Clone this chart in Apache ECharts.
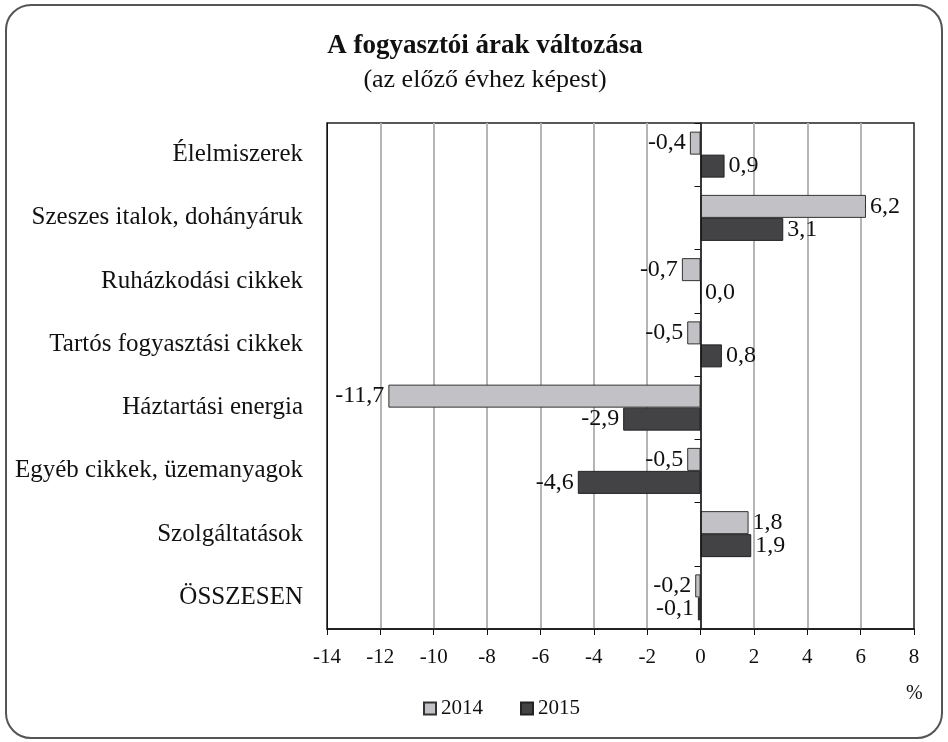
<!DOCTYPE html>
<html>
<head>
<meta charset="utf-8">
<script src="https://cdn.jsdelivr.net/npm/echarts@6/dist/echarts.min.js"></script>
<style>html,body{margin:0;padding:0;background:#fff;}#c{width:948px;height:742px;}</style>
</head>
<body>
<div id="c"></div>
<script>
const categories = ['Élelmiszerek', 'Szeszes italok, dohányáruk', 'Ruházkodási cikkek', 'Tartós fogyasztási cikkek', 'Háztartási energia', 'Egyéb cikkek, üzemanyagok', 'Szolgáltatások', 'ÖSSZESEN'];
const values2014 = [-0.4, 6.2, -0.7, -0.5, -11.7, -0.5, 1.8, -0.2];
const values2015 = [0.9, 3.1, 0.0, 0.8, -2.9, -4.6, 1.9, -0.1];
const seriesNames = ['2014', '2015'];
const xTicks = { min: -14, max: 8, interval: 2 };

const FONT = '"Liberation Serif", "DejaVu Serif", serif';
const fmt = v => v.toFixed(1).replace('.', ',');
const mkData = arr => arr.map(v => ({ value: v, label: { position: v < 0 ? 'left' : 'right' } }));

const chart = echarts.init(document.getElementById('c'), null, { renderer: 'canvas' });
chart.setOption({
  animation: false,
  backgroundColor: '#fff',
  textStyle: { fontFamily: FONT },
  title: [
    { text: 'A fogyasztói árak változása', left: 485, top: 33, padding: 0, textAlign: 'center',
      textStyle: { fontFamily: FONT, fontSize: 27, fontWeight: 'bold', color: '#111' } },
    { text: '(az előző évhez képest)', left: 485, top: 67, padding: 0, textAlign: 'center',
      textStyle: { fontFamily: FONT, fontSize: 26, fontWeight: 'normal', color: '#111' } },
    { text: '%', left: 906, top: 684, padding: 0,
      textStyle: { fontFamily: FONT, fontSize: 20, fontWeight: 'normal', color: '#111' } }
  ],
  graphic: [{
    type: 'rect', shape: { x: 6, y: 5, width: 936, height: 733, r: 25 },
    style: { fill: 'none', stroke: '#555', lineWidth: 2 }, z: 100, silent: true
  }],
  legend: {
    data: seriesNames, left: 423, top: 698, padding: 0, icon: 'rect', itemWidth: 12, itemHeight: 12,
    itemGap: 37, textStyle: { fontFamily: FONT, fontSize: 21, color: '#111' }
  },
  grid: { left: 327, right: 34, top: 123, bottom: 113, show: true, borderColor: '#222', borderWidth: 1.5, backgroundColor: 'transparent' },
  xAxis: {
    type: 'value', min: xTicks.min, max: xTicks.max, interval: xTicks.interval, position: 'bottom',
    axisLine: { show: true, onZero: false, lineStyle: { color: '#111', width: 1.5 } },
    axisTick: { show: true, length: 6, lineStyle: { color: '#111' } },
    axisLabel: { fontFamily: FONT, fontSize: 21, color: '#111', margin: 18, formatter: v => String(v) },
    splitLine: { show: true, showMinLine: false, showMaxLine: false, lineStyle: { color: '#b5b5b8', width: 2 } }
  },
  yAxis: [
    {
      type: 'category', data: categories, inverse: true, position: 'left',
      axisLine: { show: true, onZero: false, lineStyle: { color: '#111' } },
      axisTick: { show: false },
      axisLabel: { fontFamily: FONT, fontSize: 25, color: '#111', margin: 24 },
      splitLine: { show: false }
    },
    {
      type: 'category', data: categories, inverse: true, position: 'left', z: 5,
      axisLine: { show: true, onZero: true, onZeroAxisIndex: 0, lineStyle: { color: '#111', width: 1.5 } },
      axisTick: { show: true, length: 6, lineStyle: { color: '#111' } },
      axisLabel: { show: false },
      splitLine: { show: false }
    }
  ],
  series: [
    {
      name: seriesNames[0], type: 'bar', yAxisIndex: 0, data: mkData(values2014),
      barWidth: 23, barGap: '0%',
      itemStyle: { color: '#c2c2c6', borderColor: '#333', borderWidth: 1 },
      label: { show: true, fontFamily: FONT, fontSize: 24, color: '#111', distance: 4, formatter: p => fmt(p.value) }
    },
    {
      name: seriesNames[1], type: 'bar', yAxisIndex: 0, data: mkData(values2015),
      barWidth: 23, barGap: '0%',
      itemStyle: { color: '#434345', borderColor: '#222', borderWidth: 1 },
      label: { show: true, fontFamily: FONT, fontSize: 24, color: '#111', distance: 4, formatter: p => fmt(p.value) }
    }
  ]
});
</script>
</body>
</html>
